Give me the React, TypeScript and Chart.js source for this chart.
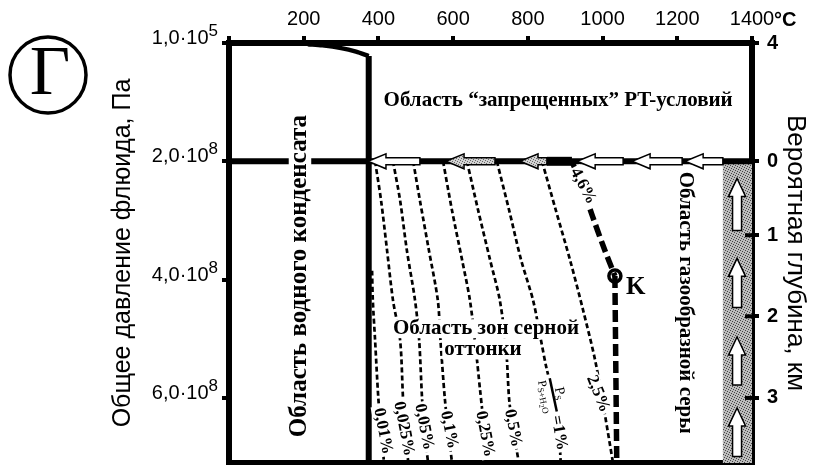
import React, { useEffect, useRef } from 'react';
import { Chart, registerables } from 'chart.js';

Chart.register(...registerables);

const SANS = '"Liberation Sans", Arial, sans-serif';
const SERIF = '"Liberation Serif", "Times New Roman", serif';

// ---- axes ----
const T_MAX = 1400;
const P_MAX = 7.1e8;
const tempTicks = [0, 200, 400, 600, 800, 1000, 1200, 1400];
const tempTickLabels = ['', '200', '400', '600', '800', '1000', '1200', '1400'];
const pressureTicks = [1e5, 2e8, 4e8, 6e8];
const pressureTickMantissa = ['1,0·10', '2,0·10', '4,0·10', '6,0·10'];
const pressureTickExponent = ['5', '8', '8', '8'];
const depthTickPressure = [0, 2.0e8, 3.25e8, 4.62e8, 6.0e8];
const depthTickLabels = ['4', '0', '1', '2', '3'];

// ---- boundaries (T in °C, P in Pa) ----
const boilingT = [211, 250, 300, 340, 374];
const boilingP = [0.02e8, 0.04e8, 0.086e8, 0.146e8, 0.221e8];
const wallT = [374, 374];
const wallP = [0.221e8, 7.1e8];
const baseLineT = [0, 1400];
const baseLineP = [2e8, 2e8];
const boldSegT = [851, 918];
const boldSegP = [2e8, 2e8];

// ---- isopleths P_S/(P_S+H2O) ----
const iso001T = [383, 385, 391, 400, 408, 415];
const iso001P = [3.85e8, 4.35e8, 5.02e8, 6.03e8, 6.6e8, 7.1e8];
const iso0025T = [391, 407, 423, 439, 458, 466, 472, 480];
const iso0025P = [2.0e8, 2.66e8, 3.5e8, 4.35e8, 5.02e8, 6.03e8, 6.6e8, 7.1e8];
const iso005T = [439, 458, 476, 498, 509, 517, 524, 533];
const iso005P = [2.0e8, 2.66e8, 3.5e8, 4.35e8, 5.02e8, 6.03e8, 6.6e8, 7.1e8];
const iso01T = [493, 511, 535, 559, 566, 578, 588, 597];
const iso01P = [2.0e8, 2.66e8, 3.5e8, 4.35e8, 5.02e8, 6.03e8, 6.6e8, 7.1e8];
const iso025T = [573, 597, 624, 645, 661, 672, 685, 697];
const iso025P = [2.0e8, 2.83e8, 3.67e8, 4.35e8, 5.19e8, 5.86e8, 6.6e8, 7.1e8];
const iso05T = [637, 667, 699, 725, 742, 750, 760, 776];
const iso05P = [2.0e8, 2.83e8, 3.67e8, 4.35e8, 5.19e8, 6.03e8, 6.5e8, 7.1e8];
const iso1T = [717, 750, 782, 814, 835, 850, 868, 883, 888];
const iso1P = [2.0e8, 2.83e8, 3.67e8, 4.35e8, 5.02e8, 5.5e8, 5.95e8, 6.59e8, 7.1e8];
const iso25T = [838, 875, 913, 948, 980, 1004, 1028];
const iso25P = [2.0e8, 2.83e8, 3.67e8, 4.52e8, 5.36e8, 6.2e8, 7.1e8];
const iso46T = [918, 945, 972, 1001, 1033];
const iso46P = [2.0e8, 2.42e8, 2.91e8, 3.42e8, 3.94e8];
const criticalT = [1033];
const criticalP = [3.94e8];
const kVertT = [1033, 1038];
const kVertP = [3.94e8, 7.1e8];

// ---- flow arrows ----
const flowTipT = [372, 581, 779, 932, 1079, 1221];
const flowTailT = [511, 712, 851, 1055, 1213, 1322];
const flowP = 2e8;
const shadedFlow = [1, 2];
const riseT = 1360;
const riseTipP = [2.29e8, 3.64e8, 4.97e8, 6.17e8];
const riseTailP = [3.17e8, 4.47e8, 5.78e8, 6.99e8];
const gasZoneT = [1322, 1400];
const gasZoneP = [2e8, 7.1e8];

// ---- text notes (anchored in data coordinates) ----
const notes = [
  { text: 'Область “запрещенных” PT-условий', t: 881, p: 0.98e8, angle: 0, size: 21 },
  { text: 'Область водного конденсата', t: 190, p: 3.94e8, angle: -90, size: 25 },
  { text: 'Область газообразной серы', t: 1223, p: 4.39e8, angle: 90, size: 21 },
  { text: 'Область зон серной', t: 688, p: 4.83e8, angle: 0, size: 21 },
  { text: 'оттонки', t: 680, p: 5.19e8, angle: 0, size: 21 },
  { text: '4,6%', t: 948, p: 2.42e8, angle: 62, size: 17 },
  { text: '2,5%', t: 988, p: 5.93e8, angle: 68, size: 17 },
  { text: '0,01%', t: 412, p: 6.56e8, angle: 79, size: 17 },
  { text: '0,025%', t: 468, p: 6.52e8, angle: 79, size: 17 },
  { text: '0,05%', t: 522, p: 6.49e8, angle: 79, size: 17 },
  { text: '0,1%', t: 589, p: 6.54e8, angle: 79, size: 17 },
  { text: '0,25%', t: 685, p: 6.61e8, angle: 79, size: 17 },
  { text: '0,5%', t: 760, p: 6.51e8, angle: 79, size: 17 },
  { text: '=1%', t: 883, p: 6.59e8, angle: 80, size: 17 },
];
const fractionNote = { t: 868, p: 5.95e8, angle: 78 };
const kNote = { text: 'K', t: 1089, p: 4.14e8, size: 25 };

const pts = (T: number[], P: number[]) => T.map((t, i) => ({ x: t, y: P[i] }));

function stipple(dark: string, light: string) {
  const c = document.createElement('canvas');
  c.width = 5;
  c.height = 5;
  const g = c.getContext('2d')!;
  g.fillStyle = light;
  g.fillRect(0, 0, 5, 5);
  g.fillStyle = dark;
  [[0, 0], [2, 1], [4, 2], [1, 3], [3, 4]].forEach(([a, b]) => g.fillRect(a, b, 1, 1));
  return c;
}

function leftArrow(ctx: CanvasRenderingContext2D, xTip: number, xTail: number, y: number, fill: any) {
  const hl = 18, hh = 7.5, sh = 3.5;
  ctx.beginPath();
  ctx.moveTo(xTip, y);
  ctx.lineTo(xTip + hl, y - hh);
  ctx.lineTo(xTip + hl, y - sh);
  ctx.lineTo(xTail, y - sh);
  ctx.lineTo(xTail, y + sh);
  ctx.lineTo(xTip + hl, y + sh);
  ctx.lineTo(xTip + hl, y + hh);
  ctx.closePath();
  ctx.fillStyle = fill;
  ctx.fill();
  ctx.lineWidth = 1.5;
  ctx.strokeStyle = '#000';
  ctx.stroke();
}

function upArrow(ctx: CanvasRenderingContext2D, x: number, yTip: number, yTail: number) {
  const hl = 18, hw = 8.5, sw = 4.5;
  ctx.beginPath();
  ctx.moveTo(x, yTip);
  ctx.lineTo(x + hw, yTip + hl);
  ctx.lineTo(x + sw, yTip + hl);
  ctx.lineTo(x + sw, yTail);
  ctx.lineTo(x - sw, yTail);
  ctx.lineTo(x - sw, yTip + hl);
  ctx.lineTo(x - hw, yTip + hl);
  ctx.closePath();
  ctx.fillStyle = '#fff';
  ctx.fill();
  ctx.lineWidth = 1.5;
  ctx.strokeStyle = '#000';
  ctx.stroke();
}

function drawNote(ctx: CanvasRenderingContext2D, text: string, x: number, y: number, angle: number, size: number) {
  ctx.save();
  ctx.translate(x, y);
  ctx.rotate((angle * Math.PI) / 180);
  ctx.font = `bold ${size}px ${SERIF}`;
  ctx.textAlign = 'center';
  ctx.textBaseline = 'middle';
  const w = ctx.measureText(text).width;
  ctx.fillStyle = '#fff';
  ctx.fillRect(-w / 2 - 2, -size * 0.45, w + 4, size * 0.9);
  ctx.fillStyle = '#000';
  ctx.fillText(text, 0, 0);
  ctx.restore();
}

function drawRuns(ctx: CanvasRenderingContext2D, runs: [string, number, number][], cx: number, baseline: number) {
  const widths = runs.map(([s, size]) => {
    ctx.font = `${size}px ${SERIF}`;
    return ctx.measureText(s).width;
  });
  const total = widths.reduce((a, b) => a + b, 0);
  let x = cx - total / 2;
  runs.forEach(([s, size, dy], i) => {
    ctx.font = `${size}px ${SERIF}`;
    ctx.fillText(s, x, baseline + dy);
    x += widths[i];
  });
}

const decorPlugin = {
  id: 'decor',
  beforeDatasetsDraw(chart: any) {
    const { ctx, scales } = chart;
    const x = scales.x, y = scales.y;
    const x0 = x.getPixelForValue(gasZoneT[0]);
    const x1 = x.getPixelForValue(gasZoneT[1]);
    const y0 = y.getPixelForValue(gasZoneP[0]);
    const y1 = y.getPixelForValue(gasZoneP[1]);
    ctx.save();
    ctx.fillStyle = ctx.createPattern(stipple('#444', '#bcbcbc'), 'repeat');
    ctx.fillRect(x0, y0, x1 - x0, y1 - y0);
    ctx.restore();
  },
  afterDatasetsDraw(chart: any) {
    const { ctx, scales } = chart;
    const x = scales.x, y = scales.y;
    ctx.save();
    const grayFill = ctx.createPattern(stipple('#666', '#d2d2d2'), 'repeat');
    const yLine = y.getPixelForValue(flowP);
    flowTipT.forEach((t, i) => {
      leftArrow(ctx, x.getPixelForValue(t), x.getPixelForValue(flowTailT[i]), yLine,
        shadedFlow.includes(i) ? grayFill : '#fff');
    });
    const xr = x.getPixelForValue(riseT);
    riseTipP.forEach((p, i) => upArrow(ctx, xr, y.getPixelForValue(p), y.getPixelForValue(riseTailP[i])));

    notes.forEach((n) => drawNote(ctx, n.text, x.getPixelForValue(n.t), y.getPixelForValue(n.p), n.angle, n.size));

    // fraction P_S / P_(S+H2O)
    ctx.translate(x.getPixelForValue(fractionNote.t), y.getPixelForValue(fractionNote.p));
    ctx.rotate((fractionNote.angle * Math.PI) / 180);
    ctx.fillStyle = '#fff';
    ctx.fillRect(-21, -15, 42, 31);
    ctx.strokeStyle = '#000';
    ctx.lineWidth = 2.5;
    ctx.beginPath();
    ctx.moveTo(-17, 0);
    ctx.lineTo(17, 0);
    ctx.stroke();
    ctx.fillStyle = '#000';
    ctx.textAlign = 'left';
    ctx.textBaseline = 'alphabetic';
    drawRuns(ctx, [['P', 14, 0], ['S', 9, 2]], 0, -3);
    drawRuns(ctx, [['P', 12, 0], ['S+H', 9, 2], ['2', 7, 4], ['O', 9, 2]], 0, 12);
    ctx.restore();

    ctx.save();
    ctx.font = `bold ${kNote.size}px ${SERIF}`;
    ctx.fillStyle = '#000';
    ctx.textAlign = 'center';
    ctx.textBaseline = 'middle';
    ctx.fillText(kNote.text, x.getPixelForValue(kNote.t), y.getPixelForValue(kNote.p));
    ctx.restore();
  },
  afterDraw(chart: any) {
    const { ctx, scales } = chart;
    const y = scales.y, yR = scales.yR, x = scales.x;
    ctx.save();
    ctx.fillStyle = '#000';
    ctx.textBaseline = 'alphabetic';
    ctx.textAlign = 'right';
    const xr = y.right - 11;
    pressureTicks.forEach((v, i) => {
      const py = y.getPixelForValue(v) + 1;
      ctx.font = `17px ${SANS}`;
      const ew = ctx.measureText(pressureTickExponent[i]).width;
      ctx.fillText(pressureTickExponent[i], xr, py - 8);
      ctx.font = `20px ${SANS}`;
      ctx.fillText(pressureTickMantissa[i], xr - ew, py);
    });
    // inner tick marks on depth axis
    ctx.strokeStyle = '#000';
    ctx.lineWidth = 4;
    depthTickPressure.forEach((v, i) => {
      if (i < 2) return;
      const py = yR.getPixelForValue(v);
      ctx.beginPath();
      ctx.moveTo(yR.left - 7, py);
      ctx.lineTo(yR.left, py);
      ctx.stroke();
    });
    // unit of the temperature axis
    ctx.textAlign = 'left';
    ctx.font = `bold 20px ${SANS}`;
    ctx.fillText('°C', x.getPixelForValue(T_MAX) + 22, 26);
    // panel letter
    ctx.lineWidth = 3.5;
    ctx.beginPath();
    ctx.arc(48, 75, 38, 0, Math.PI * 2);
    ctx.stroke();
    ctx.font = `70px ${SERIF}`;
    ctx.textAlign = 'center';
    ctx.fillText('Г', 50, 94);
    ctx.restore();
  },
};

const line = (T: number[], P: number[], width: number, dash: number[] = [], tension = 0) => ({
  data: pts(T, P),
  showLine: true,
  borderColor: '#000',
  backgroundColor: '#000',
  borderWidth: width,
  borderDash: dash,
  pointRadius: 0,
  tension,
  fill: false,
});

const zeroPad = (s: any) => {
  s.paddingTop = 0;
  s.paddingBottom = 0;
  s.paddingLeft = 0;
  s.paddingRight = 0;
};

export default function App() {
  const ref = useRef<HTMLCanvasElement>(null);
  useEffect(() => {
    document.body.style.margin = '0';
    const canvas = ref.current!;
    const thin = [5, 3];
    const bold = [12, 5];
    const chart = new Chart(canvas, {
      type: 'scatter',
      data: {
        datasets: [
          line(iso001T, iso001P, 2.7, thin, 0.3),
          line(iso0025T, iso0025P, 2.7, thin, 0.3),
          line(iso005T, iso005P, 2.7, thin, 0.3),
          line(iso01T, iso01P, 2.7, thin, 0.3),
          line(iso025T, iso025P, 2.7, thin, 0.3),
          line(iso05T, iso05P, 2.7, thin, 0.3),
          line(iso1T, iso1P, 2.7, thin, 0.3),
          line(iso25T, iso25P, 2.7, thin, 0.3),
          line(iso46T, iso46P, 5.5, bold, 0.3),
          line(kVertT, kVertP, 5.5, bold),
          line(baseLineT, baseLineP, 6),
          line(boldSegT, boldSegP, 9),
          line(wallT, wallP, 6),
          line(boilingT, boilingP, 4.5, [], 0.3),
          {
            data: pts(criticalT, criticalP),
            showLine: false,
            pointRadius: 6,
            pointBorderWidth: 3.5,
            pointBackgroundColor: '#fff',
            pointBorderColor: '#000',
          },
        ] as any,
      },
      options: {
        responsive: false,
        devicePixelRatio: 1,
        animation: false,
        events: [],
        layout: { padding: 0, autoPadding: false },
        plugins: { legend: { display: false }, tooltip: { enabled: false } },
        scales: {
          x: {
            type: 'linear',
            position: 'top',
            min: 0,
            max: T_MAX,
            afterBuildTicks: (s: any) => {
              s.ticks = tempTicks.map((v) => ({ value: v }));
            },
            afterFit: (s: any) => {
              s.height = 43;
              zeroPad(s);
            },
            ticks: {
              callback: (_v: any, i: number) => tempTickLabels[i],
              font: { family: SANS, size: 20 },
              color: '#000',
              padding: 5,
              maxRotation: 0,
              autoSkip: false,
            },
            grid: { display: true, drawOnChartArea: false, drawTicks: true, tickLength: 7, lineWidth: 4, color: '#000' },
            border: { display: true, width: 6, color: '#000' },
          },
          xb: {
            type: 'linear',
            position: 'bottom',
            min: 0,
            max: T_MAX,
            ticks: { display: false },
            grid: { display: false },
            border: { display: true, width: 6, color: '#000' },
            afterFit: (s: any) => {
              s.height = 2;
              zeroPad(s);
            },
          },
          y: {
            type: 'linear',
            position: 'left',
            reverse: true,
            min: 0,
            max: P_MAX,
            afterBuildTicks: (s: any) => {
              s.ticks = pressureTicks.map((v) => ({ value: v }));
            },
            afterFit: (s: any) => {
              s.width = 229;
              zeroPad(s);
            },
            ticks: { display: false },
            grid: { display: true, drawOnChartArea: false, drawTicks: true, tickLength: 7, lineWidth: 4, color: '#000' },
            border: { display: true, width: 6, color: '#000' },
            title: {
              display: true,
              text: 'Общее давление флюида, Па',
              font: { family: SANS, size: 25 },
              color: '#000',
              padding: { top: 108, bottom: 0 },
            },
          },
          yR: {
            type: 'linear',
            position: 'right',
            reverse: true,
            min: 0,
            max: P_MAX,
            afterBuildTicks: (s: any) => {
              s.ticks = depthTickPressure.map((v) => ({ value: v }));
            },
            afterFit: (s: any) => {
              s.width = 62;
              zeroPad(s);
            },
            ticks: {
              callback: (_v: any, i: number) => depthTickLabels[i],
              font: { family: SANS, size: 20, weight: 'bold' },
              color: '#000',
              padding: 8,
              autoSkip: false,
            },
            grid: { display: true, drawOnChartArea: false, drawTicks: true, tickLength: 7, lineWidth: 4, color: '#000' },
            border: { display: true, width: 6, color: '#000' },
            title: {
              display: true,
              text: 'Вероятная глубина, км',
              font: { family: SANS, size: 26 },
              color: '#000',
              padding: { top: 3, bottom: 0 },
            },
          },
        },
      } as any,
      plugins: [decorPlugin],
    });
    return () => chart.destroy();
  }, []);
  return (
    <div style={{ width: 814, height: 465 }}>
      <canvas ref={ref} width={814} height={465} style={{ display: 'block', width: 814, height: 465 }} />
    </div>
  );
}
